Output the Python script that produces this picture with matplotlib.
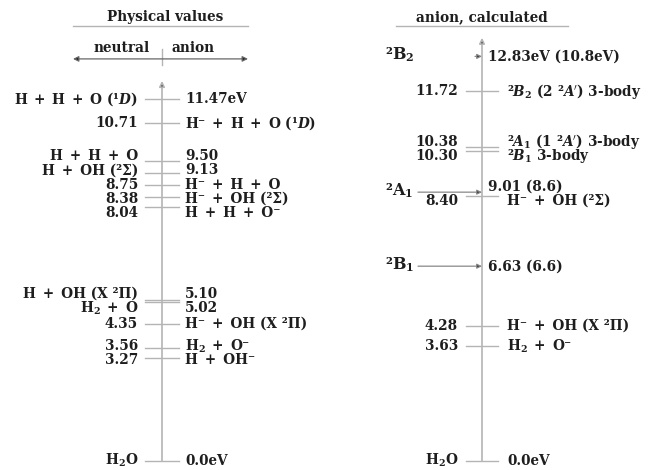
import matplotlib
matplotlib.use('Agg')
import matplotlib.pyplot as plt

plt.rcParams['font.family'] = ['DejaVu Serif', 'DejaVu Sans']
plt.rcParams['font.weight'] = 'bold'
plt.rcParams['mathtext.fontset'] = 'dejavuserif'
plt.rcParams['mathtext.default'] = 'bf'

# physical values (eV), label on the left for neutral, on the right for anion
phys_e = [11.47, 10.71, 9.50, 9.13, 8.75, 8.38, 8.04, 5.10, 5.02, 4.35, 3.56, 3.27, 0.0]
phys_txt = ['11.47eV', '10.71', '9.50', '9.13', '8.75', '8.38', '8.04',
            '5.10', '5.02', '4.35', '3.56', '3.27', '0.0eV']
phys_species = ['H + H + O (¹$\\mathbfit{D}$)', 'H⁻ + H + O (¹$\\mathbfit{D}$)',
                'H + H + O', 'H + OH (²Σ)', 'H⁻ + H + O', 'H⁻ + OH (²Σ)',
                'H + H + O⁻', 'H + OH (X ²Π)', 'H$_2$ + O', 'H⁻ + OH (X ²Π)',
                'H$_2$ + O⁻', 'H + OH⁻', 'H$_2$O']
phys_side = ['neutral', 'anion', 'neutral', 'neutral', 'anion', 'anion', 'anion',
             'neutral', 'neutral', 'anion', 'anion', 'anion', 'neutral']

# calculated anion levels; heights as drawn on the diagram (eV)
calc_e = [12.83, 11.72, 9.95, 9.84, 8.52, 8.40, 6.17, 4.28, 3.63, 0.0]
calc_txt = ['12.83eV (10.8eV)', '11.72', '10.38', '10.30', '9.01 (8.6)', '8.40',
            '6.63 (6.6)', '4.28', '3.63', '0.0eV']
calc_species = ['²B$_2$', "²$\\mathbfit{B}_2$ (2 ²$\\mathbfit{A}'$) 3-body",
                "²$\\mathbfit{A}_1$ (1 ²$\\mathbfit{A}'$) 3-body",
                '²$\\mathbfit{B}_1$ 3-body', '²A$_1$', 'H⁻ + OH (²Σ)',
                '²B$_1$', 'H⁻ + OH (X ²Π)', 'H$_2$ + O⁻', 'H$_2$O']
calc_side = ['top', 'anion', 'anion', 'anion', 'state', 'anion', 'state', 'anion',
             'anion', 'neutral']

TXT = '#1e1e1e'
LINE = '#b4b4b4'
FS = 9.8


def wide(s):
    # math-like spacing around the plus signs
    return s.replace(' + ', '\u2002+\u2002')


def spread(ys, gap):
    # push label heights apart so they do not overlap
    order = sorted(range(len(ys)), key=lambda i: -ys[i])
    groups = [[i] for i in order]
    pos = {i: ys[i] for i in order}
    changed = True
    while changed:
        changed = False
        new = [groups[0]]
        for g in groups[1:]:
            if pos[new[-1][-1]] - pos[g[0]] < gap - 1e-9:
                new[-1] = new[-1] + g
                changed = True
            else:
                new.append(g)
        groups = new
        for g in groups:
            m = sum(ys[i] for i in g) / len(g)
            for k, i in enumerate(g):
                pos[i] = m + gap * ((len(g) - 1) / 2 - k)
    return [pos[i] for i in range(len(ys))]


fig = plt.figure(figsize=(6.52, 4.70), dpi=100)
ax = fig.add_axes([0, 0, 1, 1])
ax.set_xlim(0, 652)
ax.set_ylim(-0.30, 14.62)
ax.axis('off')

# ---- left panel: physical values
xa = 162
ax.text(165, 14.08, 'Physical values', ha='center', va='center', fontsize=FS, color=TXT)
ax.plot([73, 248], [13.79, 13.79], color=LINE, lw=1.0)
ax.text(150, 13.10, 'neutral', ha='right', va='center', fontsize=FS, color=TXT)
ax.text(172, 13.10, 'anion', ha='left', va='center', fontsize=FS, color=TXT)
ax.annotate('', xy=(73, 12.75), xytext=(248, 12.75),
            arrowprops=dict(arrowstyle='<|-|>', ec='#666', fc='#222', lw=0.9,
                            mutation_scale=8, shrinkA=0, shrinkB=0))
ax.plot([xa, xa], [12.55, 13.05], color=LINE, lw=1.0)
ax.annotate('', xy=(xa, 12.05), xytext=(xa, 0),
            arrowprops=dict(arrowstyle='-|>', ec=LINE, fc='#222', lw=1.2,
                            mutation_scale=8, shrinkA=0, shrinkB=0))

ty = spread(phys_e, 0.45)
for e, t, s, side, y in zip(phys_e, phys_txt, phys_species, phys_side, ty):
    ax.plot([xa - 17, xa + 17], [e, e], color=LINE, lw=1.0)
    left, right = (wide(s), t) if side == 'neutral' else (t, wide(s))
    ax.text(138, y, left, ha='right', va='center', fontsize=FS, color=TXT)
    ax.text(185, y, right, ha='left', va='center', fontsize=FS, color=TXT)

# ---- right panel: calculated anion states
xb = 482
ax.text(482, 14.08, 'anion, calculated', ha='center', va='center', fontsize=FS, color=TXT)
ax.plot([396, 568], [13.79, 13.79], color=LINE, lw=1.0)
ax.annotate('', xy=(xb, 13.42), xytext=(xb, 0),
            arrowprops=dict(arrowstyle='-|>', ec=LINE, fc='#222', lw=1.2,
                            mutation_scale=8, shrinkA=0, shrinkB=0))

ty = spread(calc_e, 0.45)
for e, t, s, side, y in zip(calc_e, calc_txt, calc_species, calc_side, ty):
    if side in ('state', 'top'):
        x0 = 418 if side == 'state' else 475
        ax.annotate('', xy=(xb, e), xytext=(x0, e),
                    arrowprops=dict(arrowstyle='-|>', ec='#888', fc='#222', lw=0.9,
                                    mutation_scale=7, shrinkA=0, shrinkB=0))
        ax.text(385, e + 0.05, s, ha='left', va='center', fontsize=11.5, color=TXT)
        ax.text(488, y, t, ha='left', va='center', fontsize=FS, color=TXT)
        continue
    ax.plot([xb - 16, xb + 16], [e, e], color=LINE, lw=1.0)
    left, right = (wide(s), t) if side == 'neutral' else (t, wide(s))
    ax.text(458, y, left, ha='right', va='center', fontsize=FS, color=TXT)
    ax.text(507, y, right, ha='left', va='center', fontsize=FS, color=TXT)

fig.savefig('out.png', dpi=100, facecolor='white')
